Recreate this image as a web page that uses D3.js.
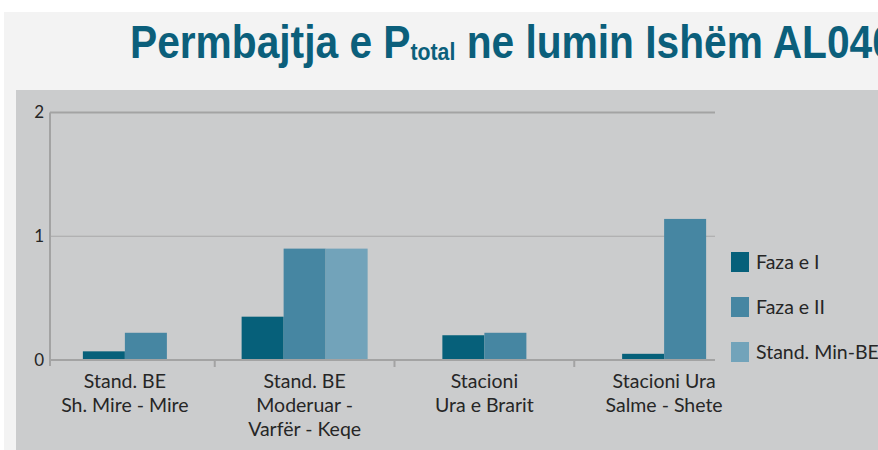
<!DOCTYPE html>
<html>
<head>
<meta charset="utf-8">
<script src="https://cdn.jsdelivr.net/npm/d3@7"></script>
<style>
  body { margin: 0; background: #ffffff; overflow: hidden; }
  text { font-family: Lato, "Open Sans", sans-serif; }
</style>
</head>
<body>
<script>
"use strict"

// chart data
const categories = [
  ["Stand. BE", "Sh. Mire - Mire"],
  ["Stand. BE", "Moderuar -", "Varfër - Keqe"],
  ["Stacioni", "Ura e Brarit"],
  ["Stacioni Ura", "Salme - Shete"]
];
const seriesNames = ["Faza e I", "Faza e II", "Stand. Min-BE"];
const fazaI = [0.07, 0.35, 0.20, 0.05];
const fazaII = [0.22, 0.90, 0.22, 1.14];
const standMin = [null, 0.90, null, null];
const yTicks = [0, 1, 2];

const w = 878;
const h = 450;
const colors = ["#06607a", "#4686a2", "#72a3ba"];
const plotLeft = 50, plotRight = 715;

const svg = d3.select("body")
  .append("svg")
  .attr("width", w)
  .attr("height", h);

// panels
svg.append("rect").attr("x", 4).attr("y", 12).attr("width", w - 4).attr("height", h - 12).attr("fill", "#f3f3f3");
svg.append("rect").attr("x", 16).attr("y", 90).attr("width", w - 16).attr("height", h - 90).attr("fill", "#cbcccd");

// title (condensed look)
const title = svg.append("text")
  .attr("transform", "translate(130,58) scale(0.885,1)")
  .attr("fill", "#0b5f7b")
  .style("font-family", "'Liberation Sans', Arial, sans-serif")
  .style("font-weight", "bold")
  .style("font-size", "46px");
title.append("tspan").text("Permbajtja e P");
title.append("tspan").style("font-size", "24px").attr("dy", 2).text("total");
title.append("tspan").attr("dy", -2).text(" ne lumin Ishëm AL040");

const rows = categories.map((c, i) => ({
  label: c,
  values: [fazaI[i], fazaII[i], standMin[i]]
}));

const x = d3.scaleBand()
  .domain(d3.range(categories.length))
  .range([35, 754]);

const y = d3.scaleLinear()
  .domain([0, 2])
  .range([360, 112.5]);

const barW = 42;

// gridlines
svg.append("g")
  .selectAll("line")
  .data(yTicks.filter(d => d > 0))
  .enter()
  .append("line")
  .attr("x1", plotLeft)
  .attr("x2", plotRight)
  .attr("y1", d => y(d))
  .attr("y2", d => y(d))
  .attr("stroke", d => d === 2 ? "#a3a3a3" : "#a8a8a8")
  .attr("stroke-width", d => d === 2 ? 2 : 1.2);

// y axis line and labels
svg.append("line")
  .attr("x1", plotLeft).attr("x2", plotLeft)
  .attr("y1", y(2)).attr("y2", y(0) + 6)
  .attr("stroke", "#a3a3a3").attr("stroke-width", 2);

svg.append("g")
  .selectAll("text")
  .data(yTicks)
  .enter()
  .append("text")
  .attr("x", 44)
  .attr("y", d => y(d))
  .attr("dy", "0.35em")
  .attr("text-anchor", "end")
  .attr("fill", "#262626")
  .style("font-size", "17px")
  .text(d => d);

// bars, centred on the series present in each category
const groups = svg.append("g")
  .selectAll("g")
  .data(rows)
  .enter()
  .append("g");

groups.each(function (d, i) {
  const present = d.values.map((v, k) => ({ v: v, k: k })).filter(e => e.v !== null);
  const center = x(i) + x.bandwidth() / 2;
  const sub = d3.scaleBand()
    .domain(present.map(e => e.k))
    .range([center - present.length * barW / 2, center + present.length * barW / 2]);
  d3.select(this).selectAll("rect")
    .data(present)
    .enter()
    .append("rect")
    .attr("x", e => sub(e.k))
    .attr("y", e => y(e.v))
    .attr("width", sub.bandwidth())
    .attr("height", e => y(0) - y(e.v))
    .attr("fill", e => colors[e.k]);
});

// x axis
svg.append("line")
  .attr("x1", plotLeft).attr("x2", plotRight)
  .attr("y1", y(0)).attr("y2", y(0))
  .attr("stroke", "#a3a3a3").attr("stroke-width", 2);

svg.append("g")
  .selectAll("line")
  .data(d3.range(1, categories.length))
  .enter()
  .append("line")
  .attr("x1", d => x(d)).attr("x2", d => x(d))
  .attr("y1", y(0)).attr("y2", y(0) + 7)
  .attr("stroke", "#a3a3a3").attr("stroke-width", 2);

const labels = svg.append("g")
  .selectAll("text")
  .data(rows)
  .enter()
  .append("text")
  .attr("text-anchor", "middle")
  .attr("fill", "#262626")
  .style("font-size", "19.5px");

labels.each(function (d, i) {
  d3.select(this).selectAll("tspan")
    .data(d.label)
    .enter()
    .append("tspan")
    .attr("x", x(i) + x.bandwidth() / 2)
    .attr("y", (t, j) => 388 + j * 24)
    .text(t => t);
});

// legend
const legend = svg.append("g")
  .selectAll("g")
  .data(seriesNames)
  .enter()
  .append("g")
  .attr("transform", (d, i) => "translate(731," + (252 + i * 45) + ")");

legend.append("rect")
  .attr("width", 18)
  .attr("height", 20)
  .attr("fill", (d, i) => colors[i]);

legend.append("text")
  .attr("x", 25)
  .attr("y", 10)
  .attr("dy", "0.35em")
  .attr("fill", "#262626")
  .style("font-size", "19.5px")
  .text(d => d);
</script>
</body>
</html>
